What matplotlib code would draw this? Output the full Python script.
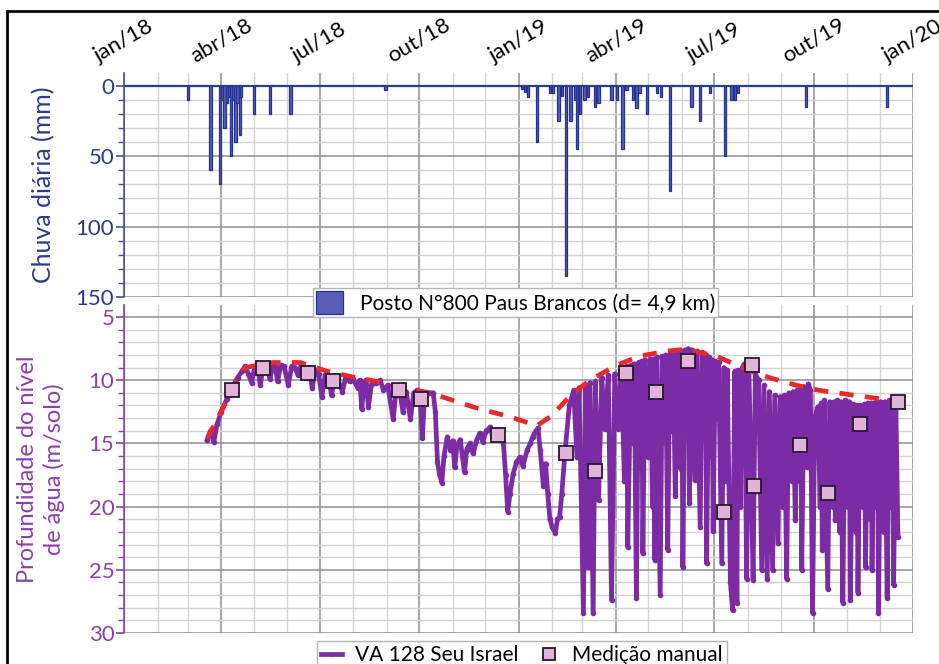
import numpy as np
import matplotlib
matplotlib.use("Agg")
import matplotlib.pyplot as plt
import matplotlib.dates as mdates
from matplotlib.ticker import MultipleLocator, FuncFormatter
from matplotlib.patches import Rectangle

plt.rcParams['font.family'] = ['Lato', 'DejaVu Sans']

# days counted from 01/jan/2018
START = np.datetime64('2018-01-01')
END = np.datetime64('2020-01-01')

# daily rain (Posto N°800 Paus Brancos), day -> mm
rain_day = [59, 80, 89, 91, 93, 95, 97, 99, 101, 103, 105, 107, 108, 120, 135, 154, 242,
            368, 371, 374, 382, 394, 397, 402, 405, 409, 413, 417, 419, 422, 426, 429,
            436, 439, 451, 456, 461, 465, 471, 474, 477, 484, 493, 497, 505, 525, 533,
            542, 556, 562, 565, 568, 631, 706]
rain_mm = [10, 60, 70, 10, 30, 12, 8, 50, 10, 40, 12, 35, 8, 20, 20, 20, 3,
           2, 4, 8, 40, 5, 5, 25, 7, 135, 25, 10, 45, 20, 10, 8,
           15, 12, 10, 10, 45, 3, 10, 16, 5, 20, 5, 8, 75, 15, 25,
           5, 50, 10, 10, 5, 15, 15]

# logger VA 128 Seu Israel (day, depth m)
level = [(77, 14.7), (80, 14.0), (83, 14.9), (86, 13.5), (90, 12.5), (95, 11.5), (100, 10.6),
         (105, 9.8), (109, 9.3), (112, 8.9), (115, 9.5), (118, 10.2), (121, 8.9), (124, 9.2),
         (126, 10.4), (129, 8.8), (132, 9.0), (135, 9.9), (138, 8.7), (140, 8.9), (142, 10.1),
         (145, 8.8), (148, 8.9), (152, 10.4), (155, 8.9), (158, 9.0), (161, 9.6), (164, 8.8),
         (167, 9.2), (170, 9.8), (172, 9.0), (174, 10.6), (177, 9.2), (180, 9.5), (183, 11.3),
         (186, 9.6), (189, 9.8), (192, 11.2), (195, 9.7), (198, 10.0), (202, 10.9), (205, 9.8),
         (209, 10.1), (212, 9.9), (216, 10.6), (218, 10.0), (220, 12.3), (222, 10.2), (224, 10.0),
         (226, 12.1), (229, 10.3), (233, 10.2), (237, 10.0), (240, 10.8), (244, 10.4), (249, 13.1),
         (252, 10.6), (255, 10.8), (258, 12.5), (261, 10.9), (265, 13.1), (268, 11.0), (271, 10.8),
         (274, 11.4), (276, 14.6), (278, 11.2), (282, 11.0), (286, 11.0), (288, 12.5), (290, 16.5),
         (292, 17.5), (294, 18.1), (296, 16.0), (299, 14.5), (302, 15.5), (304, 14.8), (306, 16.9),
         (308, 15.2), (311, 14.7), (313, 16.0), (315, 17.3), (317, 15.5), (320, 15.0), (323, 15.8),
         (326, 14.8), (329, 14.2), (332, 14.9), (335, 14.0), (339, 13.7), (341, 14.5), (343, 14.0),
         (346, 14.2), (349, 14.6), (351, 15.0), (353, 17.5), (355, 20.4), (357, 19.0), (360, 17.4),
         (363, 16.5), (366, 16.1), (369, 16.8), (373, 15.5), (376, 15.0), (378, 14.5), (381, 14.0),
         (383, 13.8), (385, 15.5), (388, 18.4), (390, 16.6), (392, 19.0), (394, 21.0), (396, 21.6),
         (399, 22.1), (401, 21.0), (403, 20.8), (405, 19.0), (408, 15.6), (412, 12.0), (416, 10.8),
         (419, 16.1), (421, 10.6), (425, 28.4), (427, 10.4), (429, 24.8), (431, 10.2), (434, 28.4),
         (436, 10.1), (439, 19.5), (442, 9.8), (445, 13.9), (448, 9.6), (451, 27.4), (454, 9.5),
         (457, 13.9), (460, 9.1), (463, 18.0), (465, 8.9), (466, 23.2), (469, 8.8), (471, 15.0),
         (472, 8.7), (474, 27.2), (476, 8.6), (478, 17.0), (479, 8.5), (480, 23.7), (482, 8.4),
         (485, 16.1), (487, 8.3), (489, 20.0), (490, 8.3), (491, 24.2), (493, 8.2), (496, 27.0),
         (498, 8.1), (500, 15.0), (501, 8.0), (503, 23.4), (505, 7.9), (507, 14.0), (508, 7.9),
         (510, 19.2), (512, 7.8), (515, 17.0), (516, 7.7), (517, 24.8), (519, 7.6), (521, 12.0),
         (522, 7.5), (523, 19.7), (525, 7.6), (528, 17.9), (530, 7.7), (533, 21.6), (535, 7.8),
         (537, 14.0), (538, 8.0), (539, 24.5), (541, 8.2), (543, 16.0), (544, 8.4), (545, 21.9),
         (547, 8.5), (549, 13.0), (550, 8.6), (553, 24.5), (555, 9.0), (557, 18.0), (558, 9.2),
         (561, 26.0), (563, 28.2), (565, 9.3), (567, 27.6), (568, 9.2), (570, 20.0), (572, 9.0),
         (574, 8.7), (576, 25.7), (578, 8.8), (580, 17.0), (582, 25.8), (584, 9.5), (587, 10.0),
         (590, 25.0), (592, 10.4), (595, 25.7), (597, 10.9), (600, 25.0), (602, 11.2), (605, 22.9),
         (607, 11.3), (610, 20.0), (611, 11.2), (613, 25.7), (615, 11.0), (618, 18.0), (619, 10.9),
         (621, 21.1), (623, 10.8), (625, 18.0), (626, 10.6), (627, 25.0), (629, 10.5), (632, 16.9),
         (633, 10.3), (635, 10.8), (637, 28.4), (639, 13.0), (642, 12.1), (644, 20.0), (645, 11.8),
         (646, 23.4), (648, 11.6), (651, 26.5), (653, 11.7), (656, 20.0), (657, 11.7), (658, 21.1),
         (660, 11.6), (662, 22.0), (663, 11.7), (665, 27.6), (667, 11.6), (670, 20.0), (671, 11.7),
         (672, 27.4), (674, 11.9), (677, 22.0), (678, 12.0), (679, 26.8), (681, 12.0), (684, 20.0),
         (685, 11.9), (686, 24.8), (688, 11.8), (690, 21.0), (691, 11.8), (692, 25.0), (694, 11.8),
         (696, 20.0), (697, 11.7), (698, 28.4), (700, 11.7), (703, 22.0), (704, 11.7), (706, 27.2),
         (708, 11.6), (710, 20.0), (711, 11.6), (712, 26.2), (714, 11.6), (716, 22.4)]

# red dashed envelope (day, depth m)
envelope = [(77, 14.6), (101, 10.6), (112, 9.0), (138, 8.6), (163, 8.6), (188, 9.3), (209, 9.7),
            (234, 10.1), (258, 10.6), (283, 11.0), (308, 11.7), (326, 12.2), (357, 12.9),
            (382, 13.6), (396, 12.8), (413, 11.2), (431, 10.0), (456, 8.8), (477, 8.1),
            (502, 7.7), (520, 7.55), (548, 8.1), (572, 9.0), (597, 9.8), (622, 10.4),
            (643, 10.8), (668, 11.1), (693, 11.4), (715, 11.6)]

# manual measurements (day, depth m)
manual = [(100, 10.8), (129, 9.0), (170, 9.4), (193, 10.1), (254, 10.8), (275, 11.5),
          (346, 14.3), (409, 15.8), (436, 17.2), (464, 9.4), (492, 10.9), (522, 8.5),
          (555, 20.4), (581, 8.8), (583, 18.4), (625, 15.1), (651, 18.9), (681, 13.5),
          (716, 11.7)]

MESES = {1: 'jan', 4: 'abr', 7: 'jul', 10: 'out'}


def to_dates(days):
    return START + np.array(days, dtype='timedelta64[D]')


def fmt_month(x, pos):
    d = mdates.num2date(x)
    return '%s/%02d' % (MESES.get(d.month, ''), d.year % 100)


blue = '#2b3990'
purple = '#8a3fab'
line_purple = '#7b2ba3'

fig = plt.figure(figsize=(9.39, 6.64), dpi=100)
ax1 = fig.add_axes([0.1321, 0.5527, 0.8403, 0.3374])
ax2 = fig.add_axes([0.1321, 0.0467, 0.8403, 0.4940])

for ax in (ax1, ax2):
    ax.set_xlim(START, END)
    ax.xaxis.set_major_locator(mdates.MonthLocator(bymonth=[1, 4, 7, 10]))
    ax.xaxis.set_minor_locator(mdates.MonthLocator())
    ax.grid(which='major', color='#8e8e8e', lw=1.1)
    ax.grid(which='minor', color='#d2d2d2', lw=1.0)
    ax.set_axisbelow(True)
    for s in ('top', 'right', 'bottom'):
        ax.spines[s].set_visible(False)

# --- rain ---
bars = ax1.bar(to_dates(rain_day), rain_mm, width=2.2, color='#5a5db8', edgecolor='#22318f',
               lw=0.9, label='Posto N°800 Paus Brancos (d= 4,9 km)')
ax1.axhline(0, color='#2a3a9c', lw=1.6, zorder=1)
ax1.set_ylim(150, -9.2)
ax1.yaxis.set_major_locator(MultipleLocator(50))
ax1.yaxis.set_minor_locator(MultipleLocator(10))
ax1.xaxis.tick_top()
ax1.xaxis.set_major_formatter(FuncFormatter(fmt_month))
ax1.tick_params(axis='x', which='both', length=0, pad=5, labelsize=16)
for lb in ax1.get_xticklabels():
    lb.set_rotation(30)
    lb.set_ha('center')
ax1.tick_params(axis='y', which='major', length=6, width=1.2, color='#44508f', labelsize=16,
                labelcolor=blue, pad=1)
ax1.tick_params(axis='y', which='minor', length=4, width=1.0, color='#44508f')
ax1.spines['left'].set_color('#44508f')
ax1.spines['left'].set_linewidth(1.2)
ax1.set_ylabel('Chuva diária (mm)', color=blue, fontsize=18)
ax1.yaxis.set_label_coords(-0.087, 0.5)

# --- water level ---
lx, ly = zip(*level)
ln, = ax2.plot(to_dates(lx), ly, color=line_purple, lw=3.4, marker='o', ms=3,
               label='VA 128 Seu Israel')
ex, ey = zip(*envelope)
ax2.plot(to_dates(ex), ey, color='#e8282b', lw=3.4, linestyle=(0, (3.0, 2.4)), zorder=3)
mx, my = zip(*manual)
sq, = ax2.plot(to_dates(mx), my, ls='none', marker='s', ms=10, mfc='#e2b3d9', mec='#2a1530',
               mew=1.3, zorder=4, label='Medição manual')
ax2.set_ylim(30, 4.05)
ax2.yaxis.set_major_locator(MultipleLocator(5))
ax2.yaxis.set_minor_locator(MultipleLocator(1))
ax2.tick_params(axis='x', which='both', length=0, labelbottom=False)
ax2.tick_params(axis='y', which='major', length=6, width=1.2, color=purple, labelsize=16,
                labelcolor=purple, pad=1)
ax2.tick_params(axis='y', which='minor', length=4, width=1.0, color=purple)
ax2.spines['left'].set_color(purple)
ax2.spines['left'].set_linewidth(1.2)
ax2.set_ylabel('Profundidade do nível\nde água (m/solo)', color=purple, fontsize=17,
               linespacing=1.25)
ax2.yaxis.set_label_coords(-0.075, 0.5)

fig.legend(handles=[bars], loc='center', bbox_to_anchor=(0.549, 0.544), fontsize=15,
           frameon=True, fancybox=False, edgecolor='#b5b5b5', framealpha=1,
           handlelength=1.3, handleheight=1.3, borderpad=0.15, handletextpad=0.8)
fig.legend(handles=[ln, sq], loc='upper center', bbox_to_anchor=(0.556, 0.05), ncol=2,
           fontsize=15, frameon=True, fancybox=False, edgecolor='#b5b5b5', framealpha=1,
           handlelength=1.0, markerscale=0.8, borderpad=0.2, columnspacing=1.0,
           handletextpad=0.6)

fig.patches.append(Rectangle((0.0075, -0.2), 1.3, 0.9834 + 0.2, transform=fig.transFigure,
                             fill=False, ec='black', lw=2, clip_on=False))

fig.savefig('out.png', dpi=100)
